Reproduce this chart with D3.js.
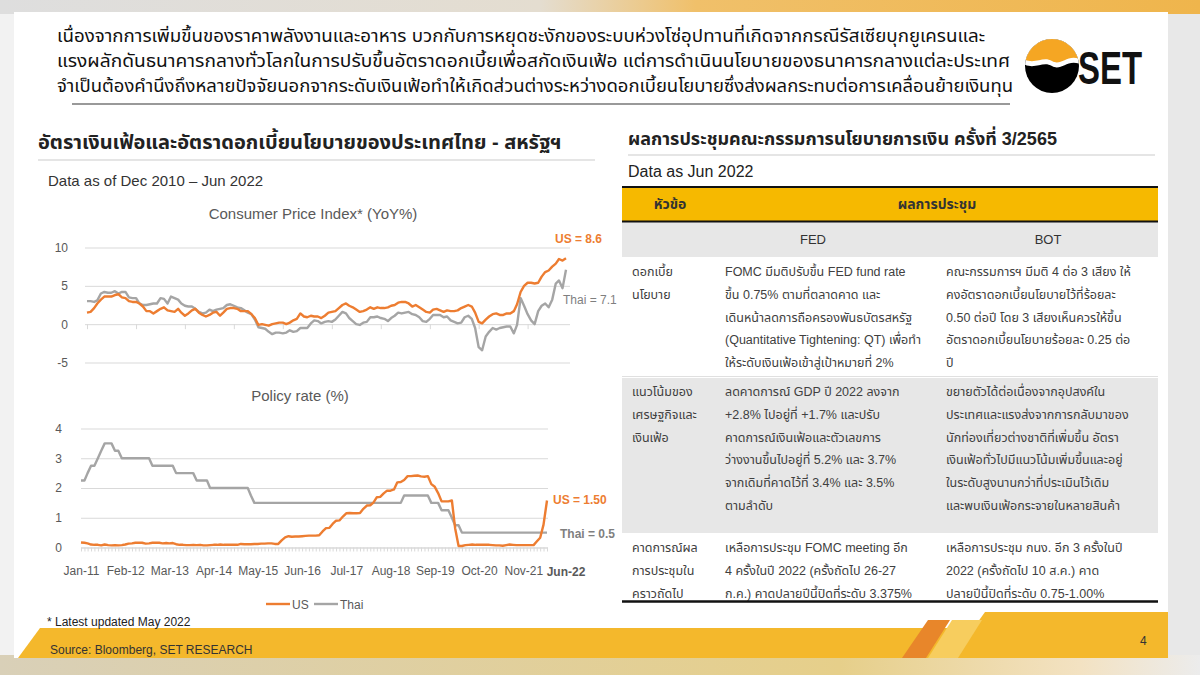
<!DOCTYPE html>
<html lang="th">
<head>
<meta charset="UTF-8" />
<script src="https://d3js.org/d3.v7.min.js"></script>
<style>
  body { margin: 0; background: #e6e6e6; }
  svg { display: block; font-family: "Liberation Sans", Arial, "Noto Sans Thai", Tahoma, sans-serif; }
  .grid line { stroke: #d9d9d9; }
  .grid .domain { stroke: none; }
  .grid text { fill: #595959; font-size: 12px; }
  .xaxis .domain, .xaxis line { stroke: #d9d9d9; }
  .xaxis text { fill: #595959; font-size: 12px; }
</style>
</head>
<body>
<svg id="slide" width="1200" height="675"></svg>
<script>
// ---- data ----
// CPI YoY %, monthly Dec 2010 .. May 2022
const cpiStart = new Date(2010, 11, 1);
const usCpi = [1.5,
  1.6, 2.1, 2.7, 3.2, 3.6, 3.6, 3.6, 3.8, 3.9, 3.5, 3.4, 3.0,
  2.9, 2.9, 2.7, 2.3, 1.7, 1.7, 1.4, 1.7, 2.0, 2.2, 1.8, 1.7,
  1.6, 2.0, 1.5, 1.1, 1.4, 1.8, 2.0, 1.5, 1.2, 1.0, 1.2, 1.5,
  1.6, 1.1, 1.5, 2.0, 2.1, 2.1, 2.0, 1.7, 1.7, 1.7, 1.3, 0.8,
  -0.1, 0.0, -0.1, -0.2, 0.0, 0.1, 0.2, 0.2, 0.0, 0.2, 0.5, 0.7,
  1.4, 1.0, 0.9, 1.1, 1.0, 1.0, 0.8, 1.1, 1.5, 1.6, 1.7, 2.1,
  2.5, 2.7, 2.4, 2.2, 1.9, 1.6, 1.7, 1.9, 2.2, 2.0, 2.2, 2.1,
  2.1, 2.2, 2.4, 2.5, 2.8, 2.9, 2.9, 2.7, 2.3, 2.5, 2.2, 1.9,
  1.6, 1.5, 1.9, 2.0, 1.8, 1.6, 1.8, 1.7, 1.7, 1.8, 2.1, 2.3,
  2.5, 2.3, 1.5, 0.3, 0.1, 0.6, 1.0, 1.3, 1.4, 1.2, 1.2, 1.4,
  1.4, 1.7, 2.6, 4.2, 5.0, 5.4, 5.4, 5.3, 5.4, 6.2, 6.8, 7.0,
  7.5, 7.9, 8.5, 8.3, 8.6];
const thaiCpi = [3.0,
  3.0, 2.9, 3.1, 4.0, 4.2, 4.1, 4.1, 4.3, 4.0, 4.2, 4.2, 3.5,
  3.4, 3.4, 2.7, 2.5, 2.5, 2.6, 2.7, 2.7, 3.4, 3.3, 2.7, 3.6,
  3.4, 3.2, 2.7, 2.4, 2.3, 2.3, 2.0, 1.6, 1.4, 1.5, 1.9, 1.7,
  1.9, 2.0, 2.1, 2.5, 2.6, 2.4, 2.2, 2.1, 1.8, 1.5, 1.3, 0.6,
  -0.4, -0.5, -0.6, -1.0, -1.3, -1.1, -1.1, -1.2, -1.1, -0.8, -1.0, -0.9,
  -0.5, -0.5, -0.5, 0.1, 0.5, 0.4, 0.1, 0.3, 0.4, 0.3, 0.6, 1.1,
  1.6, 1.4, 0.8, 0.4, 0.0, -0.1, 0.2, 0.3, 0.9, 0.9, 1.0, 0.8,
  0.7, 0.4, 0.8, 1.1, 1.5, 1.4, 1.5, 1.6, 1.3, 1.2, 0.9, 0.4,
  0.3, 0.7, 1.2, 1.2, 1.2, 0.9, 1.0, 0.5, 0.3, 0.1, 0.2, 0.9,
  1.1, 0.7, -0.5, -3.0, -3.4, -1.6, -1.0, -0.5, -0.7, -0.5, -0.4, -0.3,
  -0.3, -1.2, -0.1, 3.4, 2.4, 1.3, 0.5, 0.0, 1.7, 2.4, 2.7, 2.2,
  3.2, 5.3, 5.7, 4.7, 7.1];

// policy rate %, monthly Jan 2011 .. Jun 2022
const rateStart = new Date(2011, 0, 1);
const usRate = [
  0.17, 0.16, 0.14, 0.10, 0.09, 0.09, 0.07, 0.10, 0.08, 0.07, 0.08, 0.07,
  0.08, 0.10, 0.13, 0.14, 0.16, 0.16, 0.16, 0.13, 0.14, 0.16, 0.16, 0.16,
  0.14, 0.15, 0.14, 0.15, 0.11, 0.09, 0.09, 0.08, 0.08, 0.09, 0.08, 0.09,
  0.07, 0.07, 0.08, 0.09, 0.09, 0.10, 0.09, 0.09, 0.09, 0.09, 0.09, 0.12,
  0.11, 0.11, 0.11, 0.12, 0.12, 0.13, 0.13, 0.14, 0.14, 0.12, 0.12, 0.24,
  0.34, 0.38, 0.36, 0.37, 0.37, 0.38, 0.39, 0.40, 0.40, 0.40, 0.41, 0.54,
  0.65, 0.66, 0.79, 0.90, 0.91, 1.04, 1.15, 1.16, 1.15, 1.15, 1.16, 1.30,
  1.41, 1.42, 1.51, 1.69, 1.70, 1.82, 1.91, 1.91, 1.95, 2.19, 2.20, 2.27,
  2.40, 2.40, 2.41, 2.42, 2.39, 2.38, 2.40, 2.13, 2.04, 1.83, 1.55, 1.55,
  1.55, 1.58, 0.65, 0.05, 0.05, 0.08, 0.09, 0.10, 0.09, 0.09, 0.09, 0.09,
  0.09, 0.08, 0.07, 0.07, 0.06, 0.08, 0.10, 0.09, 0.08, 0.08, 0.08, 0.08,
  0.08, 0.08, 0.20, 0.33, 0.77, 1.58];
const thaiRate = [
  2.25, 2.25, 2.5, 2.75, 2.75, 3.0, 3.25, 3.5, 3.5, 3.5, 3.25, 3.25,
  3.0, 3.0, 3.0, 3.0, 3.0, 3.0, 3.0, 3.0, 3.0, 2.75, 2.75, 2.75,
  2.75, 2.75, 2.75, 2.75, 2.5, 2.5, 2.5, 2.5, 2.5, 2.5, 2.25, 2.25,
  2.25, 2.25, 2.0, 2.0, 2.0, 2.0, 2.0, 2.0, 2.0, 2.0, 2.0, 2.0,
  2.0, 2.0, 1.75, 1.5, 1.5, 1.5, 1.5, 1.5, 1.5, 1.5, 1.5, 1.5,
  1.5, 1.5, 1.5, 1.5, 1.5, 1.5, 1.5, 1.5, 1.5, 1.5, 1.5, 1.5,
  1.5, 1.5, 1.5, 1.5, 1.5, 1.5, 1.5, 1.5, 1.5, 1.5, 1.5, 1.5,
  1.5, 1.5, 1.5, 1.5, 1.5, 1.5, 1.5, 1.5, 1.5, 1.5, 1.5, 1.75,
  1.75, 1.75, 1.75, 1.75, 1.75, 1.75, 1.75, 1.5, 1.5, 1.5, 1.25, 1.25,
  1.25, 1.0, 0.75, 0.75, 0.5, 0.5, 0.5, 0.5, 0.5, 0.5, 0.5, 0.5,
  0.5, 0.5, 0.5, 0.5, 0.5, 0.5, 0.5, 0.5, 0.5, 0.5, 0.5, 0.5,
  0.5, 0.5, 0.5, 0.5, 0.5, 0.5];

const cpiTicks = [10, 5, 0, -5];
const rateTicks = [4, 3, 2, 1, 0];
const seriesNames = ["US", "Thai"];
const seriesColors = ["#ED7D31", "#A5A5A5"];

const headerLines = [
  "เนื่องจากการเพิ่มขึ้นของราคาพลังงานและอาหาร บวกกับการหยุดชะงักของระบบห่วงโซ่อุปทานที่เกิดจากกรณีรัสเซียบุกยูเครนและ",
  "แรงผลักดันธนาคารกลางทั่วโลกในการปรับขึ้นอัตราดอกเบี้ยเพื่อสกัดเงินเฟ้อ แต่การดำเนินนโยบายของธนาคารกลางแต่ละประเทศ",
  "จำเป็นต้องคำนึงถึงหลายปัจจัยนอกจากระดับเงินเฟ้อทำให้เกิดส่วนต่างระหว่างดอกเบี้ยนโยบายซึ่งส่งผลกระทบต่อการเคลื่อนย้ายเงินทุน"
];
const tableTopics = [
  ["ดอกเบี้ย", "นโยบาย"],
  ["แนวโน้มของ", "เศรษฐกิจและ", "เงินเฟ้อ"],
  ["คาดการณ์ผล", "การประชุมใน", "คราวถัดไป"]
];
const fedText = [
  ["FOMC มีมติปรับขึ้น FED fund rate", "ขึ้น 0.75% ตามที่ตลาดคาด และ", "เดินหน้าลดการถือครองพันธบัตรสหรัฐ", "(Quantitative Tightening: QT) เพื่อทำ", "ให้ระดับเงินเฟ้อเข้าสู่เป้าหมายที่ 2%"],
  ["ลดคาดการณ์ GDP ปี 2022 ลงจาก", "+2.8% ไปอยู่ที่ +1.7% และปรับ", "คาดการณ์เงินเฟ้อและตัวเลขการ", "ว่างงานขึ้นไปอยู่ที่ 5.2% และ 3.7%", "จากเดิมที่คาดไว้ที่ 3.4% และ 3.5%", "ตามลำดับ"],
  ["เหลือการประชุม FOMC meeting อีก", "4 ครั้งในปี 2022 (ครั้งถัดไป 26-27", "ก.ค.) คาดปลายปีนี้ปิดที่ระดับ 3.375%"]
];
const botText = [
  ["คณะกรรมการฯ มีมติ 4 ต่อ 3 เสียง ให้", "คงอัตราดอกเบี้ยนโยบายไว้ที่ร้อยละ", "0.50 ต่อปี โดย 3 เสียงเห็นควรให้ขึ้น", "อัตราดอกเบี้ยนโยบายร้อยละ 0.25 ต่อ", "ปี"],
  ["ขยายตัวได้ต่อเนื่องจากอุปสงค์ใน", "ประเทศและแรงส่งจากการกลับมาของ", "นักท่องเที่ยวต่างชาติที่เพิ่มขึ้น อัตรา", "เงินเฟ้อทั่วไปมีแนวโน้มเพิ่มขึ้นและอยู่", "ในระดับสูงนานกว่าที่ประเมินไว้เดิม", "และพบเงินเฟ้อกระจายในหลายสินค้า"],
  ["เหลือการประชุม กนง. อีก 3 ครั้งในปี", "2022 (ครั้งถัดไป 10 ส.ค.) คาด", "ปลายปีนี้ปิดที่ระดับ 0.75-1.00%"]
];

// ---- slide background ----
const svg = d3.select("#slide");
const defs = svg.append("defs");
const topGrad = defs.append("linearGradient").attr("id", "topGrad");
topGrad.append("stop").attr("offset", "0%").attr("stop-color", "#dedede");
topGrad.append("stop").attr("offset", "45%").attr("stop-color", "#e4ddd0");
topGrad.append("stop").attr("offset", "58%").attr("stop-color", "#f0c06a");
topGrad.append("stop").attr("offset", "100%").attr("stop-color", "#efb54c");
const botGrad = defs.append("linearGradient").attr("id", "botGrad");
botGrad.append("stop").attr("offset", "0%").attr("stop-color", "#d9d0b8");
botGrad.append("stop").attr("offset", "70%").attr("stop-color", "#e6cf8a");
botGrad.append("stop").attr("offset", "90%").attr("stop-color", "#f3e2c2");
botGrad.append("stop").attr("offset", "100%").attr("stop-color", "#ececec");

svg.append("rect").attr("width", 1200).attr("height", 675).attr("fill", "#e8e8e8");
svg.append("rect").attr("width", 1200).attr("height", 14).attr("fill", "url(#topGrad)");
svg.append("rect").attr("y", 655).attr("width", 1200).attr("height", 20).attr("fill", "url(#botGrad)");
svg.append("rect").attr("x", 0).attr("y", 14).attr("width", 14).attr("height", 641).attr("fill", "#f2f2f2");
svg.append("rect").attr("x", 14).attr("y", 12).attr("width", 1154).attr("height", 646).attr("fill", "#fff");

// footer band
svg.append("path").attr("d", "M40,628 L1168,628 L1168,658 L18,658 Z").attr("fill", "#F4B82C");
svg.append("path").attr("d", "M985,612 L1168,612 L1168,640 L965,640 Z").attr("fill", "#F4B82C");
svg.append("path").attr("d", "M928,620 L950,620 L926,658 L902,658 Z").attr("fill", "#E8862A");
svg.append("path").attr("d", "M952,620 L982,620 L958,658 L928,658 Z").attr("fill", "#F7CD5E");
svg.append("text").attr("x", 50).attr("y", 654).attr("font-size", 12).attr("fill", "#333")
  .text("Source: Bloomberg, SET  RESEARCH");
svg.append("text").attr("x", 1140).attr("y", 645).attr("font-size", 12).attr("fill", "#333").text("4");

// header
svg.selectAll(".head").data(headerLines).join("text")
  .attr("class", "head")
  .attr("x", 57).attr("y", (d, i) => 42 + i * 25)
  .attr("font-size", 17).attr("fill", "#111")
  .attr("textLength", (d, i) => [928, 953, 956][i]).attr("lengthAdjust", "spacingAndGlyphs")
  .text(d => d);
svg.append("line").attr("x1", 72).attr("x2", 1010).attr("y1", 104).attr("y2", 104)
  .attr("stroke", "#777").attr("stroke-width", 1.5);

// SET logo
const logo = svg.append("g");
defs.append("clipPath").attr("id", "logoClip").append("circle").attr("cx", 1052).attr("cy", 66).attr("r", 27);
const lg = logo.append("g").attr("clip-path", "url(#logoClip)");
lg.append("rect").attr("x", 1020).attr("y", 36).attr("width", 64).attr("height", 64).attr("fill", "#000");
lg.append("path").attr("d", "M1020,36 L1084,36 L1084,66 C1068,56 1062,72 1052,66 C1042,60 1034,72 1020,62 Z").attr("fill", "#fff");
lg.append("path").attr("d", "M1020,36 L1084,36 L1084,61 C1068,51 1062,67 1052,61 C1042,55 1034,67 1020,57 Z").attr("fill", "#F5A623");
logo.append("text").attr("x", 1078).attr("y", 84).attr("font-size", 47).attr("font-weight", "bold")
  .attr("textLength", 64).attr("lengthAdjust", "spacingAndGlyphs").attr("fill", "#111").text("SET");

// ---- left section ----
svg.append("text").attr("x", 38).attr("y", 149).attr("font-size", 20).attr("font-weight", "bold").attr("fill", "#222")
  .text("อัตราเงินเฟ้อและอัตราดอกเบี้ยนโยบายของประเทศไทย - สหรัฐฯ");
svg.append("line").attr("x1", 38).attr("x2", 595).attr("y1", 160).attr("y2", 160).attr("stroke", "#ddd").attr("stroke-width", 1.5);
svg.append("text").attr("x", 48).attr("y", 186).attr("font-size", 15).attr("fill", "#333").text("Data as of Dec 2010 – Jun 2022");

// CPI chart
const cpiDates = usCpi.map((d, i) => d3.timeMonth.offset(cpiStart, i));
const xCpi = d3.scaleTime().domain(d3.extent(cpiDates)).range([87, 566]);
const yCpi = d3.scaleLinear().domain([-5, 10]).range([362.5, 247.5]);
svg.append("text").attr("x", 313).attr("y", 219).attr("text-anchor", "middle").attr("font-size", 15).attr("fill", "#595959")
  .text("Consumer Price Index* (YoY%)");
svg.append("g").attr("class", "grid").attr("transform", "translate(85,0)")
  .call(d3.axisLeft(yCpi).tickValues(cpiTicks).tickSize(-485).tickPadding(17).tickFormat(d => String(d)));
const cpiTickDates = d3.range(0, usCpi.length + 14, 14).map(i => d3.timeMonth.offset(cpiStart, i)).filter(d => xCpi(d) <= 570);
svg.append("g").attr("class", "xaxis").attr("transform", `translate(0,${yCpi(0)})`)
  .call(d3.axisBottom(xCpi).tickValues(cpiTickDates).tickSize(5).tickFormat("").tickSizeOuter(0))
  .select(".domain").remove();

const cpiLine = d3.line().x((d, i) => xCpi(cpiDates[i])).y(d => yCpi(d));
[thaiCpi, usCpi].forEach((s, k) => {
  svg.append("path").datum(s).attr("d", cpiLine).attr("fill", "none")
    .attr("stroke", seriesColors[1 - k]).attr("stroke-width", 2.4).attr("stroke-linejoin", "round");
});
svg.append("text").attr("x", xCpi(cpiDates[cpiDates.length - 1]) - 11).attr("y", yCpi(usCpi[usCpi.length - 1]) - 15)
  .attr("font-size", 12).attr("font-weight", "bold").attr("fill", seriesColors[0]).text("US = " + usCpi[usCpi.length - 1]);
svg.append("text").attr("x", xCpi(cpiDates[cpiDates.length - 1]) - 3).attr("y", yCpi(thaiCpi[thaiCpi.length - 1]) + 34)
  .attr("font-size", 12).attr("fill", "#7f7f7f").text("Thai = " + thaiCpi[thaiCpi.length - 1]);

// policy rate chart
const rateDates = usRate.map((d, i) => d3.timeMonth.offset(rateStart, i));
const xRate = d3.scaleTime().domain(d3.extent(rateDates)).range([81, 547]);
const yRate = d3.scaleLinear().domain([0, 4]).range([547.5, 428.5]);
svg.append("text").attr("x", 300).attr("y", 401).attr("text-anchor", "middle").attr("font-size", 15).attr("fill", "#595959")
  .text("Policy rate (%)");
svg.append("g").attr("class", "grid").attr("transform", "translate(81,0)")
  .call(d3.axisLeft(yRate).tickValues(rateTicks).tickSize(-467).tickPadding(19).tickFormat(d3.format("d")));
svg.append("g").attr("class", "xaxis").attr("transform", `translate(0,${yRate(0)})`)
  .call(d3.axisBottom(xRate).tickValues(rateDates).tickSize(4).tickFormat("").tickSizeOuter(0));
const rateLabelDates = d3.range(0, usRate.length, 13).map(i => rateDates[i]);
svg.append("g").attr("class", "xaxis").attr("transform", `translate(0,${yRate(0)})`)
  .call(d3.axisBottom(xRate).tickValues(rateLabelDates).tickSize(0).tickPadding(19).tickFormat(d3.timeFormat("%b-%y")))
  .call(g => g.select(".domain").remove());
svg.append("text").attr("x", xRate(rateDates[rateDates.length - 1]) + 19).attr("y", yRate(0) + 28)
  .attr("text-anchor", "middle").attr("font-size", 12).attr("font-weight", "bold").attr("fill", "#595959")
  .text(d3.timeFormat("%b-%y")(rateDates[rateDates.length - 1]));

const rateLine = d3.line().x((d, i) => xRate(rateDates[i])).y(d => yRate(d));
[thaiRate, usRate].forEach((s, k) => {
  svg.append("path").datum(s).attr("d", rateLine).attr("fill", "none")
    .attr("stroke", seriesColors[1 - k]).attr("stroke-width", 2.4).attr("stroke-linejoin", "round");
});
svg.append("text").attr("x", xRate(rateDates[rateDates.length - 1]) + 6).attr("y", yRate(usRate[usRate.length - 1]) + 4)
  .attr("font-size", 12).attr("font-weight", "bold").attr("fill", seriesColors[0]).text("US = 1.50");
svg.append("text").attr("x", xRate(rateDates[rateDates.length - 1]) + 13).attr("y", yRate(thaiRate[thaiRate.length - 1]) + 5)
  .attr("font-size", 12).attr("font-weight", "bold").attr("fill", "#7f7f7f").text("Thai = 0.5");

// legend
const legend = svg.append("g").attr("transform", "translate(266,604)");
seriesNames.forEach((n, i) => {
  legend.append("line").attr("x1", i * 48).attr("x2", i * 48 + 24).attr("stroke", seriesColors[i]).attr("stroke-width", 2.4);
  legend.append("text").attr("x", i * 48 + 26).attr("y", 4.5).attr("font-size", 12).attr("fill", "#595959").text(n);
});
svg.append("text").attr("x", 47).attr("y", 626).attr("font-size", 12).attr("fill", "#222").text("* Latest updated May 2022");

// ---- right section: table ----
svg.append("text").attr("x", 628).attr("y", 145).attr("font-size", 18).attr("font-weight", "bold").attr("fill", "#222")
  .text("ผลการประชุมคณะกรรมการนโยบายการเงิน ครั้งที่ 3/2565");
svg.append("line").attr("x1", 628).attr("x2", 1155).attr("y1", 155).attr("y2", 155).attr("stroke", "#ddd").attr("stroke-width", 1.5);
svg.append("text").attr("x", 628).attr("y", 177).attr("font-size", 16).attr("fill", "#222").text("Data as Jun 2022");

const tx0 = 622, tx1 = 1158;
svg.append("rect").attr("x", tx0).attr("y", 187).attr("width", tx1 - tx0).attr("height", 34).attr("fill", "#F6B900");
svg.append("rect").attr("x", tx0).attr("y", 222).attr("width", tx1 - tx0).attr("height", 35).attr("fill", "#E7E7E7");
svg.append("line").attr("x1", tx0).attr("x2", tx1).attr("y1", 187).attr("y2", 187).attr("stroke", "#111").attr("stroke-width", 2);
svg.append("line").attr("x1", tx0).attr("x2", tx1).attr("y1", 221.5).attr("y2", 221.5).attr("stroke", "#111").attr("stroke-width", 2);
svg.append("text").attr("x", 670).attr("y", 209).attr("text-anchor", "middle").attr("font-size", 14).attr("font-weight", "bold").attr("fill", "#333").text("หัวข้อ");
svg.append("text").attr("x", 937).attr("y", 209).attr("text-anchor", "middle").attr("font-size", 14).attr("font-weight", "bold").attr("fill", "#333").text("ผลการประชุม");
svg.append("text").attr("x", 813).attr("y", 244).attr("text-anchor", "middle").attr("font-size", 13).attr("fill", "#333").text("FED");
svg.append("text").attr("x", 1048).attr("y", 244).attr("text-anchor", "middle").attr("font-size", 13).attr("fill", "#333").text("BOT");

const rowTop = [258, 378, 534];
const rowBottom = [376, 533, 601];
const rowFill = ["#fff", "#E7E7E7", "#fff"];
const lineH = 22.8;
rowTop.forEach((t, r) => {
  svg.append("rect").attr("x", tx0).attr("y", t).attr("width", tx1 - tx0).attr("height", rowBottom[r] - t).attr("fill", rowFill[r]);
  [[tableTopics[r], 632], [fedText[r], 725], [botText[r], 946]].forEach(([lines, x]) => {
    svg.append("g").selectAll("text").data(lines).join("text")
      .attr("x", x).attr("y", (d, i) => t + 18 + i * lineH)
      .attr("font-size", 12.5).attr("fill", "#404040").text(d => d);
  });
});
svg.append("line").attr("x1", tx0).attr("x2", tx1).attr("y1", 376.5).attr("y2", 376.5).attr("stroke", "#e0e0e0");
svg.append("line").attr("x1", tx0).attr("x2", tx1).attr("y1", 601.5).attr("y2", 601.5).attr("stroke", "#111").attr("stroke-width", 2.5);
</script>
</body>
</html>
